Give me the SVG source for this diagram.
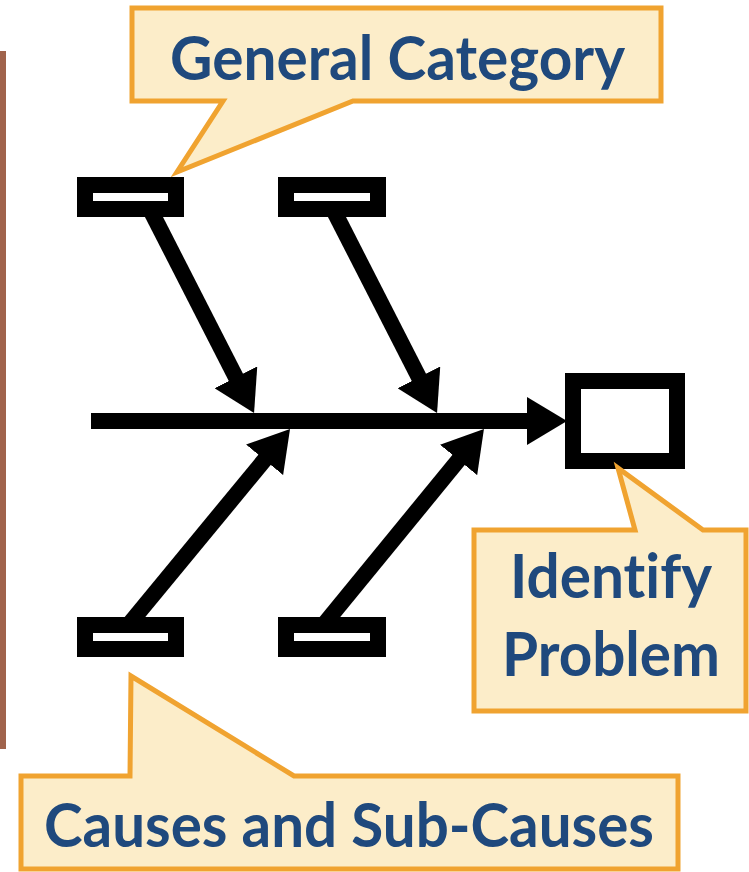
<svg xmlns="http://www.w3.org/2000/svg" width="749" height="872" viewBox="0 0 749 872">
<style>
.callout{fill:#fcedc9;stroke:#f0a330;stroke-width:5;stroke-linejoin:miter}
.lbl{font-family:Lato,"Open Sans","Liberation Sans",sans-serif;font-weight:bold;font-size:61px;fill:#1f497d;font-variant-ligatures:none;font-feature-settings:"liga" 0}
.box{fill:#fff;stroke:#000;stroke-width:16}
.bone{stroke:#000;stroke-width:16;fill:none;marker-end:url(#ah)}
</style>
<defs>
<marker id="ah" markerUnits="userSpaceOnUse" markerWidth="40" markerHeight="48" refX="6" refY="24" orient="auto" viewBox="0 0 40 48">
<path d="M0,0 L40,24 L0,48 z" fill="#000"/>
</marker>
</defs>
<rect x="0" y="51" width="6" height="698" fill="#a0634c"/>
<g id="connectors">
<line class="bone" x1="91" y1="421" x2="533" y2="421"/>
<line class="bone" x1="150.4" y1="210" x2="238.6" y2="382.7"/>
<line class="bone" x1="333.4" y1="210" x2="421.6" y2="382.7"/>
<line class="bone" x1="128.4" y1="625" x2="268.4" y2="455.2"/>
<line class="bone" x1="323.4" y1="625" x2="462.4" y2="455.3"/>
</g>
<g id="cat1"><rect class="box" x="85" y="185" width="91" height="24"/></g>
<g id="cat2"><rect class="box" x="286" y="185" width="92" height="24"/></g>
<g id="cause1"><rect class="box" x="85" y="625" width="91" height="24"/></g>
<g id="cause2"><rect class="box" x="286" y="625" width="92" height="24"/></g>
<g id="problem"><rect class="box" x="573" y="381" width="104" height="80"/></g>
<g id="callout-general">
<path class="callout" d="M132,8 L661,8 L661,101 L353,101 L177,172 L223,101 L132,101 Z"/>
<text class="lbl" x="397.5" y="80" text-anchor="middle" textLength="455" lengthAdjust="spacingAndGlyphs">General Category</text>
</g>
<g id="callout-problem">
<path class="callout" d="M474,530 L635,530 L618,468 L703,530 L746,530 L746,711 L474,711 Z"/>
<text class="lbl" x="611" y="598" text-anchor="middle" textLength="202" lengthAdjust="spacingAndGlyphs">Identify</text>
<text class="lbl" x="611" y="676" text-anchor="middle" textLength="218" lengthAdjust="spacingAndGlyphs">Problem</text>
</g>
<g id="callout-causes">
<path class="callout" d="M21,776 L130,776 L131,676 L294,776 L678,776 L678,869 L21,869 Z"/>
<text class="lbl" x="349" y="847" text-anchor="middle" textLength="610" lengthAdjust="spacingAndGlyphs">Causes and Sub-Causes</text>
</g>
</svg>
